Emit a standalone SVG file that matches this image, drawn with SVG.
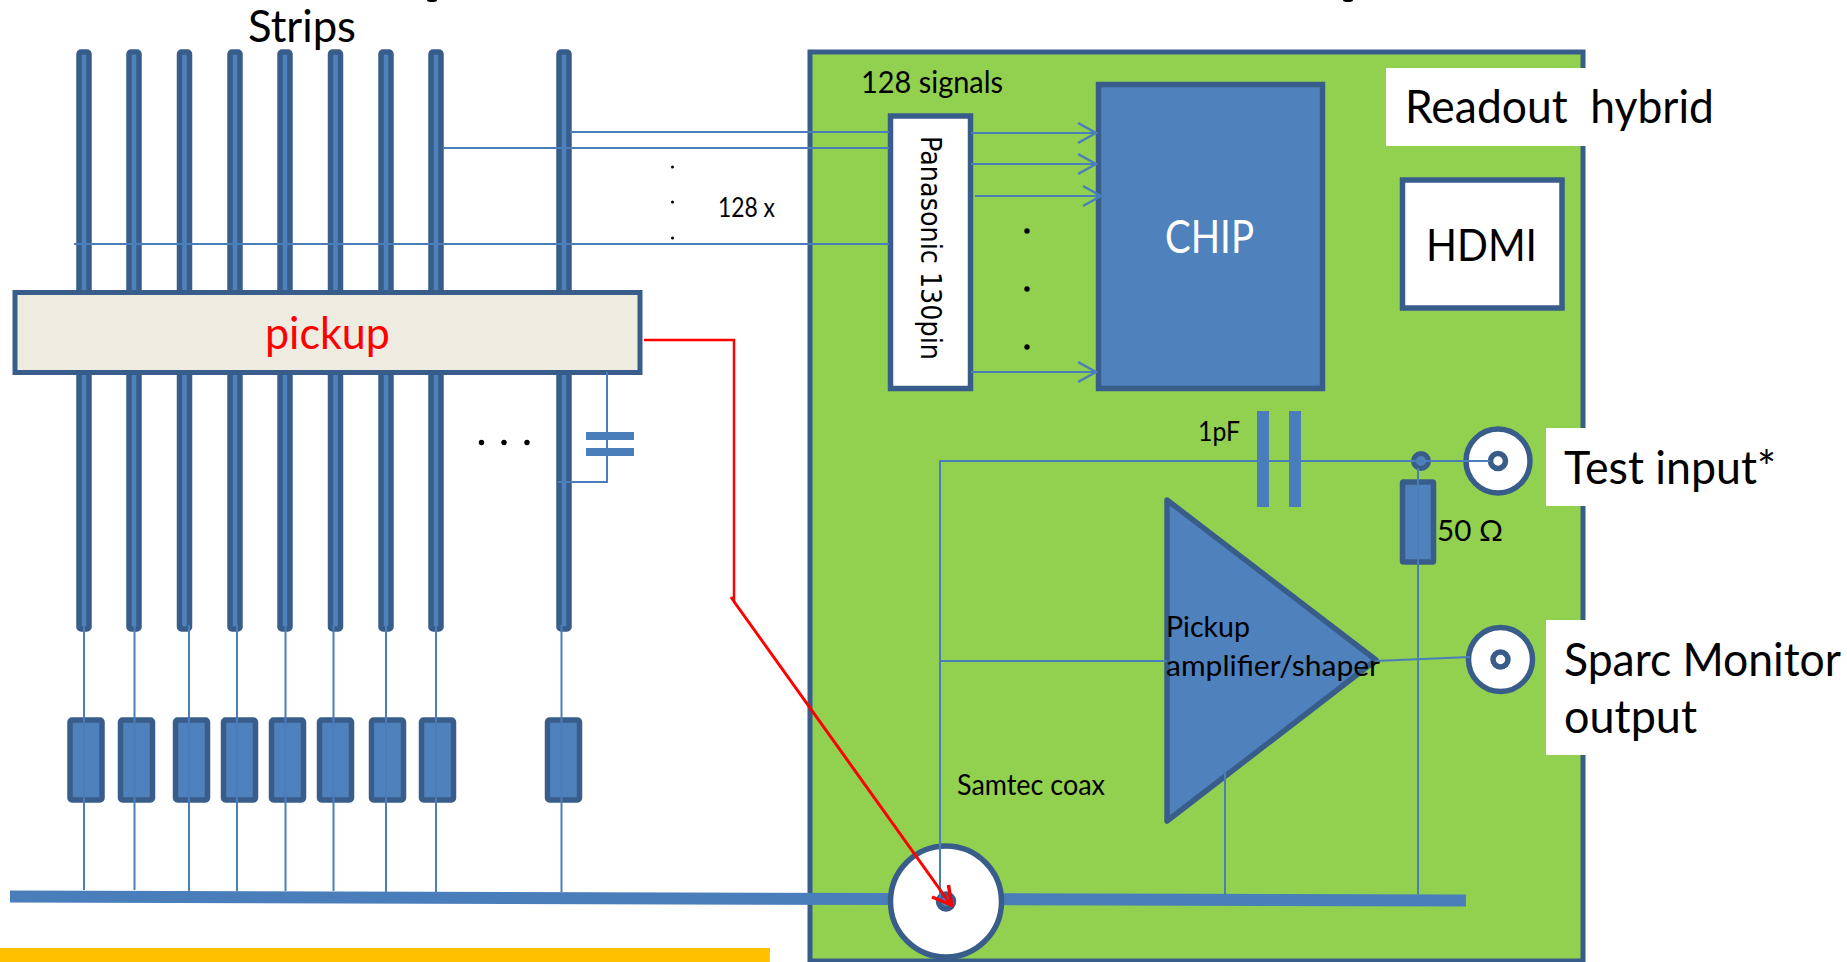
<svg xmlns="http://www.w3.org/2000/svg" width="1847" height="962" viewBox="0 0 1847 962">
<defs>
<style>
.t{font-family:Lato,"Open Sans","Liberation Sans",sans-serif;fill:#000}
.s{fill:#4F81BD;stroke:#385D8A;stroke-width:5.500}
.sm{fill:#4F81BD;stroke:#385D8A;stroke-width:5.500}
.w{fill:#fff;stroke:#385D8A;stroke-width:5.500}
.p{fill:#4A7EBB}
.c{fill:none;stroke:#4A7EBB;stroke-width:2}
.r{fill:none;stroke:#FF0000;stroke-width:2.500}
.d{fill:#000}
</style>
<marker id="open" markerUnits="userSpaceOnUse" markerWidth="24" markerHeight="24" refX="19" refY="11" orient="auto" overflow="visible">
<path d="M1 1L19 11L1 21" fill="none" stroke="#4A7EBB" stroke-width="2.500"/>
</marker>
</defs>
<rect width="1847" height="962" fill="#fff"/>
<rect id="footer-bar" x="0" y="948" width="770" height="14" fill="#FFC000"/>
<ellipse cx="432" cy="0" rx="5" ry="2" fill="#000"/>
<ellipse cx="1348" cy="0" rx="5" ry="2" fill="#000"/>
<g id="board"><rect x="810" y="52" width="773" height="909" fill="#92D050" stroke="#385D8A" stroke-width="5"/></g>
<g id="label-strips"><text class="t" x="248" y="42" font-size="45" textLength="108" lengthAdjust="spacingAndGlyphs">Strips</text></g>
<g id="strip-1"><rect class="s" x="79" y="52" width="10" height="577" rx="2"/></g>
<g id="strip-2"><rect class="s" x="129" y="52" width="10" height="577" rx="2"/></g>
<g id="strip-3"><rect class="s" x="179.500" y="52" width="10" height="577" rx="2"/></g>
<g id="strip-4"><rect class="s" x="230" y="52" width="10" height="577" rx="2"/></g>
<g id="strip-5"><rect class="s" x="280" y="52" width="10" height="577" rx="2"/></g>
<g id="strip-6"><rect class="s" x="330.500" y="52" width="10" height="577" rx="2"/></g>
<g id="strip-7"><rect class="s" x="381" y="52" width="10" height="577" rx="2"/></g>
<g id="strip-8"><rect class="s" x="431" y="52" width="10" height="577" rx="2"/></g>
<g id="strip-9"><rect class="s" x="559" y="52" width="10" height="577" rx="2"/></g>
<g id="pickup"><rect x="15" y="292.500" width="625" height="80" fill="#EEECE1" stroke="#385D8A" stroke-width="5"/>
<text x="265" y="348.500" font-size="45" textLength="125" lengthAdjust="spacingAndGlyphs" style="font-family:Lato,'Open Sans',sans-serif;fill:#FF0000">pickup</text></g>
<g id="dots-strips"><circle class="d" cx="481.500" cy="442.500" r="2.700"/><circle class="d" cx="504" cy="442.500" r="2.700"/><circle class="d" cx="527" cy="442.500" r="2.700"/></g>
<g id="pickup-cap"><rect class="p" x="586" y="432" width="48" height="8"/><rect class="p" x="586" y="448" width="48" height="8"/></g>
<g id="res-1"><rect class="sm" x="70" y="720" width="32" height="80" rx="2"/></g>
<g id="res-2"><rect class="sm" x="120.500" y="720" width="32" height="80" rx="2"/></g>
<g id="res-3"><rect class="sm" x="175.500" y="720" width="32" height="80" rx="2"/></g>
<g id="res-4"><rect class="sm" x="223.500" y="720" width="32" height="80" rx="2"/></g>
<g id="res-5"><rect class="sm" x="271.500" y="720" width="32" height="80" rx="2"/></g>
<g id="res-6"><rect class="sm" x="319.500" y="720" width="32" height="80" rx="2"/></g>
<g id="res-7"><rect class="sm" x="371.500" y="720" width="32" height="80" rx="2"/></g>
<g id="res-8"><rect class="sm" x="421.500" y="720" width="32" height="80" rx="2"/></g>
<g id="res-9"><rect class="sm" x="547.500" y="720" width="32" height="80" rx="2"/></g>
<g id="bus"><polygon class="p" points="10,890.500 892,893 1466,894.500 1466,906.500 892,905 10,902.500"/></g>
<g id="label-128x"><text class="t" x="718" y="216.500" font-size="26" textLength="57" lengthAdjust="spacingAndGlyphs">128 x</text>
<circle class="d" cx="672.500" cy="167" r="1.500"/><circle class="d" cx="672.500" cy="202" r="1.500"/><circle class="d" cx="672.500" cy="238" r="1.500"/></g>
<g id="label-signals"><text class="t" x="861" y="93" font-size="30" textLength="142" lengthAdjust="spacingAndGlyphs">128 signals</text></g>
<g id="panasonic"><rect class="w" x="890.500" y="116" width="80" height="272.500"/>
<text transform="translate(921,136) rotate(90)" font-size="29" textLength="224" lengthAdjust="spacingAndGlyphs" style="font-family:'DejaVu Sans',sans-serif;fill:#000">Panasonic 130pin</text></g>
<g id="chip"><rect class="s" x="1098.500" y="84.500" width="224" height="304"/>
<text x="1165" y="253" font-size="46" textLength="89" lengthAdjust="spacingAndGlyphs" style="font-family:Lato,'Open Sans',sans-serif;fill:#fff">CHIP</text></g>
<g id="dots-chip"><circle class="d" cx="1027" cy="231" r="2.700"/><circle class="d" cx="1027" cy="289" r="2.700"/><circle class="d" cx="1027" cy="347" r="2.700"/></g>
<g id="label-readout"><rect x="1386" y="68" width="334" height="78" fill="#fff"/>
<text class="t" x="1405" y="123" font-size="46" textLength="309" lengthAdjust="spacingAndGlyphs" xml:space="preserve">Readout  hybrid</text></g>
<g id="hdmi"><rect class="w" x="1402.500" y="180" width="159.500" height="128"/>
<text class="t" x="1426" y="260.500" font-size="45" textLength="111" lengthAdjust="spacingAndGlyphs">HDMI</text></g>
<g id="cap-1pf"><rect class="p" x="1257" y="411" width="12" height="96"/><rect class="p" x="1289" y="411" width="12" height="96"/>
<text class="t" x="1198" y="441" font-size="27" textLength="42" lengthAdjust="spacingAndGlyphs">1pF</text></g>
<g id="amp"><polygon points="1167,500 1376,660 1167,821" fill="#4F81BD" stroke="#385D8A" stroke-width="5.500" stroke-linejoin="round"/>
<text class="t" x="1166" y="637" font-size="29" textLength="84" lengthAdjust="spacingAndGlyphs">Pickup</text>
<text class="t" x="1166" y="675.500" font-size="29" textLength="214" lengthAdjust="spacingAndGlyphs">amplifier/shaper</text></g>
<g id="res-50"><rect class="s" x="1402.500" y="482" width="31" height="80" rx="1"/>
<text class="t" x="1437" y="541" font-size="29" textLength="66" lengthAdjust="spacingAndGlyphs">50 Ω</text></g>
<g id="label-test"><rect x="1546" y="428" width="234" height="78" fill="#fff"/>
<text class="t" x="1564" y="483.500" font-size="46" textLength="212" lengthAdjust="spacingAndGlyphs">Test input*</text></g>
<g id="label-sparc"><rect x="1546" y="620" width="301" height="135" fill="#fff"/>
<text class="t" x="1564" y="675.500" font-size="46" textLength="277" lengthAdjust="spacingAndGlyphs">Sparc Monitor</text>
<text class="t" x="1564" y="733" font-size="46" textLength="133" lengthAdjust="spacingAndGlyphs">output</text></g>
<g id="label-samtec"><text class="t" x="957" y="795" font-size="28" textLength="148" lengthAdjust="spacingAndGlyphs">Samtec coax</text></g>
<g id="conn-test"><circle class="w" cx="1498" cy="461" r="32"/><circle class="w" cx="1498" cy="461" r="7.500" stroke-width="5.500"/></g>
<g id="conn-sparc"><circle class="w" cx="1500.500" cy="659.500" r="32"/><circle class="w" cx="1500.500" cy="659.500" r="7.500" stroke-width="5.500"/></g>
<g id="conn-samtec"><circle class="w" cx="946" cy="901.500" r="55.500"/><circle cx="946" cy="901.500" r="7.500" fill="#4F81BD" stroke="#385D8A" stroke-width="5.500"/></g>
<g id="junction"><circle cx="1421" cy="461" r="7.500" fill="#4F81BD" stroke="#385D8A" stroke-width="5"/></g>
<g id="connectors">
<path class="c" d="M570 132H889M443 148H889M74 244H889"/>
<path class="c" d="M607 372V482H558"/>
<path class="c" d="M84 625V890M134.500 625V890M189 625V891M237 625V891M285.500 625V891M333.500 625V891M386 625V892M436 625V892M561.500 625V892"/>
<path class="c" d="M971 133H1096" marker-end="url(#open)"/>
<path class="c" d="M971 164H1096" marker-end="url(#open)"/>
<path class="c" d="M975 196H1101" marker-end="url(#open)"/>
<path class="c" d="M971 372H1096" marker-end="url(#open)"/>
<path class="c" d="M940 901V461H1490"/>
<path class="c" d="M939 661H1167M1375 661L1470 657"/>
<path class="c" d="M1418 468V894M1225 771V894"/>
<path class="r" d="M644 340H734V601"/>
<path class="r" d="M731 597L735 603L951 905" style="stroke-width:3"/>
<path class="r" d="M932 897L951.500 905L948.500 885" style="stroke-width:3.500"/>
</g>
</svg>
